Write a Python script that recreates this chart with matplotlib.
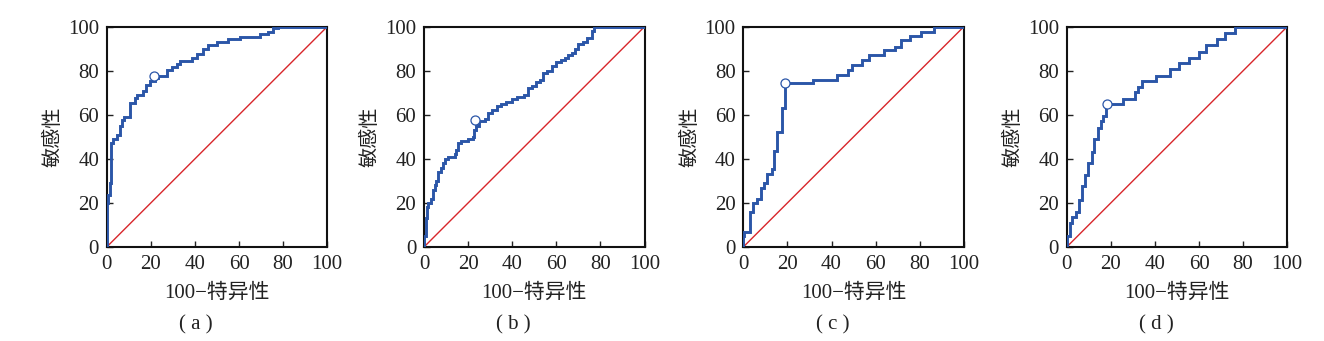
import matplotlib
matplotlib.use("Agg")
import matplotlib.pyplot as plt

# ==== 数据 (100-特异性, 敏感性) 阶梯拐点 ====
a_x = [0, 0, 0.8, 1.5, 1.8, 3.0, 4.8, 6.0, 6.8, 7.9, 10.6, 12.8, 13.9, 16.6, 18.0, 19.6,
       22.0, 23.4, 27.2, 29.5, 31.7, 33.2, 38.5, 40.8, 43.8, 46.0, 49.8, 55.1, 60.4,
       69.5, 73.3, 75.5, 77.8, 100]
a_y = [0, 20, 23.7, 29, 47, 49.2, 51, 54.7, 57.7, 59.2, 65.3, 67.5, 69, 70.8, 73.6, 75.4,
       76.6, 77.6, 80.4, 81.6, 83, 84.6, 85.6, 87.6, 89.7, 91.7, 92.9, 94.4, 95.2,
       96.5, 97.7, 99.2, 100, 100]

b_x = [0, 0, 1, 1.5, 2, 3, 4, 5, 5.5, 6.5, 7.5, 8.5, 9.5, 11, 14, 14.5, 15.5, 17, 20, 22,
       22.5, 23.5, 25, 27.5, 29, 31, 33, 35, 37, 40, 42, 45.5, 47, 49, 51, 52.5, 54, 56,
       58, 60, 62, 64, 65.5, 67, 68.5, 70, 72, 74, 76, 77, 100]
b_y = [0, 5, 13, 18, 20, 22, 26, 28, 30, 34, 36, 38, 40, 41, 42, 44, 47, 48, 49, 50,
       53, 55, 57, 58, 61, 62, 64, 65, 66, 67, 68, 69, 72, 73, 75, 76, 79, 80,
       82, 84, 85, 86, 87, 88, 90, 92, 93, 95, 98, 100, 100]

c_x = [0, 0, 0.5, 3, 4.5, 6.3, 8, 9.4, 10.9, 13, 14, 15.5, 17.4, 19, 31.7, 42.5, 47.5,
       49.3, 54, 57, 63.6, 68.6, 71.3, 75.4, 80.4, 86.3, 100]
c_y = [0, 5, 7, 15.7, 20, 22, 26.7, 29, 33, 35.3, 43.6, 52.3, 63, 74.5, 76, 78.3, 80.5,
       82.5, 84.8, 87, 89.3, 91, 93.8, 95.6, 97.7, 100, 100]

d_x = [0, 0, 1.5, 2.3, 4, 5.5, 7, 8.5, 9.7, 11.7, 12.6, 14, 15.5, 16.5, 18, 25.7, 31,
       32.2, 34, 40.5, 46.8, 51, 55.6, 60, 63.4, 68.3, 71.8, 76.3, 100]
d_y = [0, 5, 10.9, 13.5, 16, 21.5, 27.5, 32.5, 38, 43, 49, 54, 57, 59.5, 65, 67, 70.5,
       72.8, 75.4, 77.8, 80.7, 83.4, 86, 88.5, 91.7, 94.3, 97, 100, 100]

cut_x = [21.3, 23.2, 18.9, 18.1]
cut_y = [77.8, 57.7, 74.5, 65.0]
captions = ["( a )", "( b )", "( c )", "( d )"]
ticks = [0, 20, 40, 60, 80, 100]

curves = [(a_x, a_y), (b_x, b_y), (c_x, c_y), (d_x, d_y)]
lefts = [106.7, 424, 743.3, 1066.7]

BLUE = "#2b56a8"
RED = "#d8262b"
SERIF = ["Liberation Serif", "Noto Sans CJK SC"]
CJK = ["Noto Sans CJK SC", "Liberation Serif"]

W, H = 1324, 341
fig = plt.figure(figsize=(W / 100, H / 100), dpi=100)

for i, ((xs, ys), left) in enumerate(zip(curves, lefts)):
    ax = fig.add_axes([left / W, 94 / H, 220.5 / W, 220.3 / H])
    ax.plot([0, 100], [0, 100], color=RED, lw=1.0, zorder=2)
    ax.plot(xs, ys, color=BLUE, lw=2.1, drawstyle="steps-post", zorder=3,
            solid_joinstyle="miter")
    ax.plot(cut_x[i], cut_y[i], "o", ms=6.5, mfc="white", mec=BLUE, mew=0.9, zorder=4)

    ax.set_xlim(0, 100)
    ax.set_ylim(0, 100)
    ax.set_xticks(ticks)
    ax.set_yticks(ticks)
    ax.set_xticklabels([str(t) for t in ticks], family=SERIF, fontsize=15)
    ax.set_yticklabels([str(t) for t in ticks], family=SERIF, fontsize=15)
    ax.tick_params(direction="in", length=4, width=1, colors="#222222")
    ax.tick_params(axis="x", pad=6)
    ax.tick_params(axis="y", pad=5.5)
    for s in ax.spines.values():
        s.set_linewidth(1.5)
        s.set_color("#111111")

    ax.set_ylabel("敏感性", family=CJK, fontsize=14.5, color="#222222")
    ax.yaxis.set_label_coords(-0.196, 0.5)
    ax.set_xlabel("100−特异性", family=SERIF, fontsize=15, color="#222222")
    ax.xaxis.set_label_coords(0.5, -0.165)
    ax.text(0.405, -0.355, captions[i], transform=ax.transAxes, ha="center", va="center",
            family=SERIF, fontsize=15, color="#222222")

plt.savefig("out.png", dpi=100)
plt.close()
